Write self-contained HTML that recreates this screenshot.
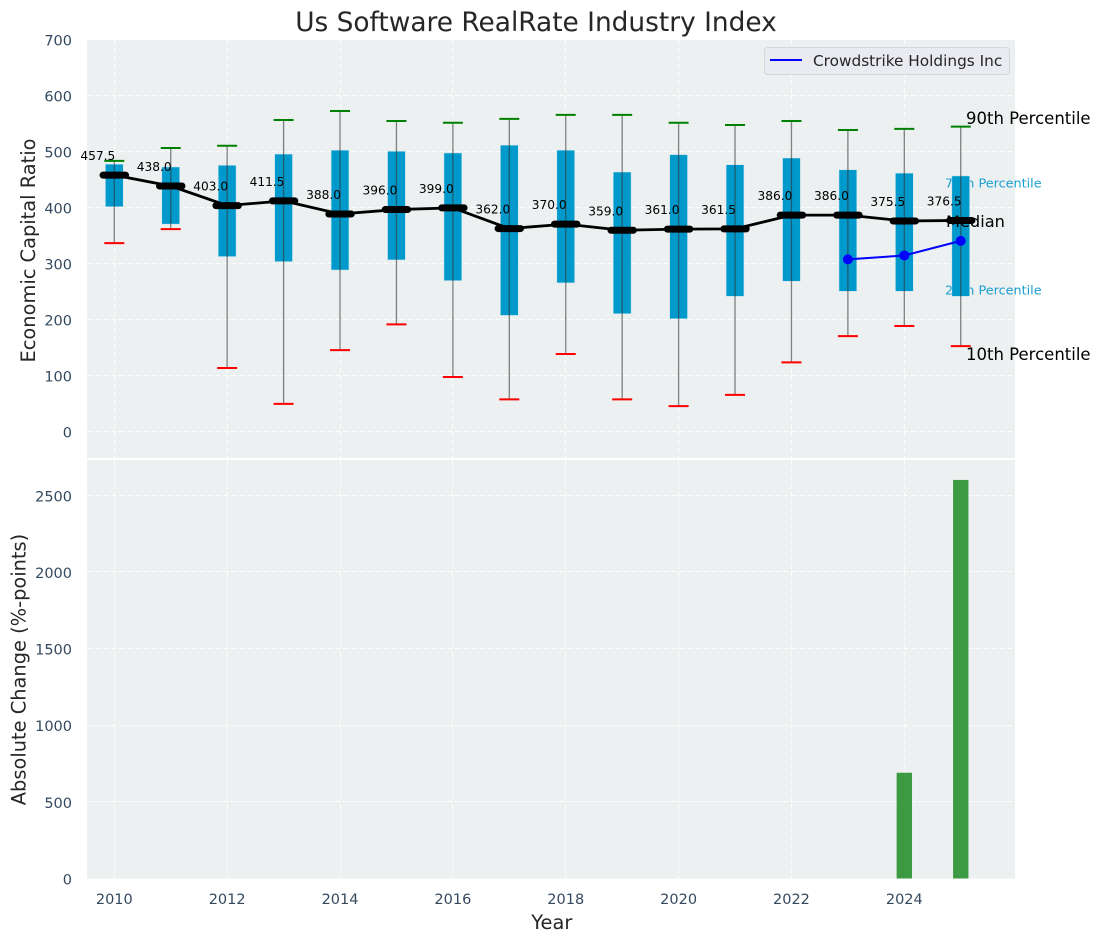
<!DOCTYPE html>
<html>
<head>
<meta charset="utf-8">
<title>Us Software RealRate Industry Index</title>
<style>
html,body{margin:0;padding:0;background:#fff;}
svg{display:block;font-family:"DejaVu Sans","Liberation Sans",sans-serif;}
</style>
</head>
<body>
<svg id="chart" xmlns="http://www.w3.org/2000/svg" width="1101" height="942" viewBox="0 0 1101 942">
  <rect x="0" y="0" width="1101" height="942" fill="#ffffff"/>
  <rect x="87" y="40" width="928" height="418" fill="#ecf0f1"/>
  <rect x="87" y="460" width="928" height="418.500" fill="#ecf0f1"/>
  <g id="grid"></g>
  <text x="945" y="187.500" font-size="12.800" fill="#1a9fcf">75th Percentile</text>
  <text x="945" y="294.500" font-size="12.800" fill="#1a9fcf">25th Percentile</text>
  <g id="marks"></g>
  <g id="bars"></g>
  <g id="ticks" font-size="14.5" fill="#34495e"></g>
  <text x="536" y="31" font-size="26.400" fill="#262626" text-anchor="middle">Us Software RealRate Industry Index</text>
  <text transform="translate(35,250.500) rotate(-90)" font-size="19.400" fill="#262626" text-anchor="middle">Economic Capital Ratio</text>
  <text transform="translate(25.500,669.500) rotate(-90)" font-size="19.400" fill="#262626" text-anchor="middle">Absolute Change (%-points)</text>
  <text x="551.800" y="929" font-size="19.400" fill="#262626" text-anchor="middle">Year</text>
  <text x="966" y="124" font-size="16.500" fill="#000000">90th Percentile</text>
  <text x="946" y="227" font-size="16.200" fill="#000000">Median</text>
  <text x="966" y="360" font-size="16.500" fill="#000000">10th Percentile</text>
  <g>
    <rect x="764.500" y="47.500" width="245" height="27" rx="3" fill="#e9ebf0" stroke="#d5d7da" stroke-width="1"/>
    <line x1="770" y1="60" x2="802" y2="60" stroke="#0000ff" stroke-width="2"/>
    <text x="813" y="66" font-size="15.300" fill="#262626">Crowdstrike Holdings Inc</text>
  </g>
</svg>
<script>
const years = [2010,2011,2012,2013,2014,2015,2016,2017,2018,2019,2020,2021,2022,2023,2024,2025];
const p10 = [336,361,113,49,145,191,97,57,138,57,45,65,123,170,188,152];
const p25 = [401,370,312,303,288,306,269,207,265,210,201,241,268,250,250,241];
const medians = [457.5,438,403,411.5,388,396,399,362,370,359,361,361.5,386,386,375.5,376.5];
const p75 = [477,472,475,495,502,500,497,511,502,463,494,476,488,467,461,456];
const p90 = [483,506,510,556,572,554,551,558,565,565,551,547,554,538,540,544];
const companyYears = [2023,2024,2025];
const companyValues = [307,314,340];
const changeYears = [2024,2025];
const changeValues = [690,2600];
const xTickLabels = [2010,2012,2014,2016,2018,2020,2022,2024];
const topYTicks = [0,100,200,300,400,500,600,700];
const bottomYTicks = [0,500,1000,1500,2000,2500];

const NS = 'http://www.w3.org/2000/svg';
const xScale = function (year) { return 114.3 + (year - 2010) * 56.43; };
const yTop = function (v) { return 431.3 - v * 0.56; };
const yBottom = function (v) { return 878.5 - v * 0.1533; };

function make(parent, tag, attrs) {
  const node = document.createElementNS(NS, tag);
  for (const key in attrs) { node.setAttribute(key, attrs[key]); }
  parent.appendChild(node);
  return node;
}

const grid = document.getElementById('grid');
const marks = document.getElementById('marks');
const barsGroup = document.getElementById('bars');
const ticks = document.getElementById('ticks');
const dash = '5 3';
const gridOpacity = 0.85;

xTickLabels.forEach(function (year) {
  const x = Math.floor(xScale(year)) + 0.5;
  const a = make(grid, 'line', {x1: x, x2: x, y1: 40, y2: 458, stroke: '#ffffff', 'stroke-opacity': gridOpacity, 'stroke-width': 1, 'stroke-dasharray': dash});
  
  
  const b = make(grid, 'line', {x1: x, x2: x, y1: 460, y2: 878.5, stroke: '#ffffff', 'stroke-opacity': gridOpacity, 'stroke-width': 1, 'stroke-dasharray': dash});
  
  
  const t = make(ticks, 'text', {x: xScale(year), y: 904, 'text-anchor': 'middle'});
  t.textContent = year;
  
  
});

topYTicks.forEach(function (v) {
  const y = Math.floor(yTop(v)) + 0.5;
  if (v < 700) {
    const a = make(grid, 'line', {x1: 87, x2: 1015, y1: y, y2: y, stroke: '#ffffff', 'stroke-opacity': gridOpacity, 'stroke-width': 1, 'stroke-dasharray': dash});
    
    
  }
  const t = make(ticks, 'text', {x: 72, y: yTop(v) + 6, 'text-anchor': 'end'});
  t.textContent = v;
  
  
});

bottomYTicks.forEach(function (v) {
  const y = Math.floor(yBottom(v)) + 0.5;
  if (v > 0) {
    const a = make(grid, 'line', {x1: 87, x2: 1015, y1: y, y2: y, stroke: '#ffffff', 'stroke-opacity': gridOpacity, 'stroke-width': 1, 'stroke-dasharray': dash});
    
    
  }
  const t = make(ticks, 'text', {x: 72, y: yBottom(v) + 6, 'text-anchor': 'end'});
  t.textContent = v;
  
  
});

years.forEach(function (year, i) {
  const x = xScale(year);
  const box = make(marks, 'rect', {x: x - 8.9, y: yTop(p75[i]), width: 17.8, height: yTop(p25[i]) - yTop(p75[i]), fill: '#0099cc', stroke: '#cfe6ee', 'stroke-width': 0.5});
  
  
  const whisker = make(marks, 'line', {x1: x, x2: x, y1: yTop(p90[i]), y2: yTop(p10[i]), stroke: '#333333', 'stroke-opacity': 0.6, 'stroke-width': 1.3});
  
  
  const capHigh = make(marks, 'line', {x1: x - 10, x2: x + 10, y1: yTop(p90[i]), y2: yTop(p90[i]), stroke: '#008000', 'stroke-width': 2});
  
  
  const capLow = make(marks, 'line', {x1: x - 10, x2: x + 10, y1: yTop(p10[i]), y2: yTop(p10[i]), stroke: '#ff0000', 'stroke-width': 2});
  
  
});

const medianPath = make(marks, 'polyline', {
  points: years.map(function (year, i) { return xScale(year) + ',' + yTop(medians[i]); }).join(' '),
  fill: 'none', stroke: '#000000', 'stroke-width': 2.8
});



years.forEach(function (year, i) {
  const x = xScale(year);
  const seg = make(marks, 'line', {x1: x - 11.2, x2: x + 11.2, y1: yTop(medians[i]), y2: yTop(medians[i]), stroke: '#000000', 'stroke-width': 7, 'stroke-linecap': 'round'});
  
  
});

const companyPath = make(marks, 'polyline', {
  points: companyYears.map(function (year, i) { return xScale(year) + ',' + yTop(companyValues[i]); }).join(' '),
  fill: 'none', stroke: '#0000ff', 'stroke-width': 2
});



companyYears.forEach(function (year, i) {
  const dot = make(marks, 'circle', {cx: xScale(year), cy: yTop(companyValues[i]), r: 5, fill: '#0000ff'});
  
  
});

years.forEach(function (year, i) {
  const label = make(marks, 'text', {x: xScale(year) - 16.5, y: yTop(medians[i]) - 15, 'text-anchor': 'middle', 'font-size': 12.2, fill: '#000000'});
  label.textContent = medians[i].toFixed(1);
  
  
});

changeYears.forEach(function (year, i) {
  const bar = make(barsGroup, 'rect', {x: xScale(year) - 7.7, y: yBottom(changeValues[i]), width: 15.4, height: yBottom(0) - yBottom(changeValues[i]), fill: '#2e9535', 'fill-opacity': 0.93});
  
  
});
</script>
</body>
</html>
